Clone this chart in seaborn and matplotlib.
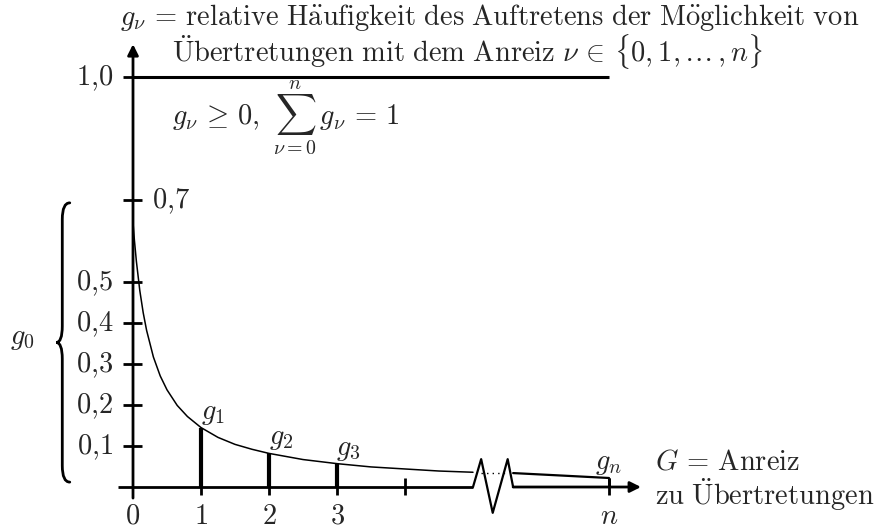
import matplotlib
matplotlib.use("Agg")
import matplotlib.pyplot as plt
import seaborn as sns
import pandas as pd
from matplotlib.path import Path
from matplotlib.patches import PathPatch

# relative frequency g over the stimulus G, left of the axis break
curve_x = [0.0, 0.02, 0.05, 0.1, 0.15, 0.2, 0.3, 0.4, 0.5, 0.65, 0.8, 1.0,
           1.25, 1.5, 1.75, 2.0, 2.5, 3.0, 3.5, 4.0, 4.5, 5.0]
curve_y = [0.645, 0.603, 0.550, 0.479, 0.425, 0.382, 0.317, 0.271, 0.237,
           0.199, 0.172, 0.145, 0.121, 0.104, 0.092, 0.082, 0.067, 0.057,
           0.049, 0.044, 0.039, 0.036]
# the same curve after the break, up to G = n
tail_x = [5.59, 6.3, 7.0]
tail_y = [0.034, 0.028, 0.022]

# marked frequencies g_1, g_2, g_3, g_n
bar_x = [1, 2, 3, 7]
bar_y = [0.145, 0.082, 0.057, 0.022]
bar_labels = [r"$g_1$", r"$g_2$", r"$g_3$", r"$g_n$"]

x_ticks = [1, 2, 3, 4, 7]
x_label_pos = [0, 1, 2, 3, 7]
x_tick_labels = [r"$0$", r"$1$", r"$2$", r"$3$", r"$n$"]
y_ticks = [0.1, 0.2, 0.3, 0.4, 0.5, 0.7, 1.0]
y_tick_labels = [r"$0{,}1$", r"$0{,}2$", r"$0{,}3$", r"$0{,}4$", r"$0{,}5$",
                 r"$0{,}7$", r"$1{,}0$"]

n_pos = 7.0
break_lo, break_hi = 5.0, 5.59

sns.set_theme(style="white")
plt.rcParams["mathtext.fontset"] = "cm"
plt.rcParams["font.family"] = ["DejaVu Serif"]

fig = plt.figure(figsize=(8.78, 5.29), dpi=100)
ax = fig.add_axes([0, 0, 1, 1])
ax.set_xlim(-1.956, 10.956)
ax.set_ylim(-0.1024, 1.1878)
ax.axis("off")

FS = 20.5
K = "black"

# curve
df_a = pd.DataFrame({"G": curve_x, "g": curve_y})
df_b = pd.DataFrame({"G": tail_x, "g": tail_y})
sns.lineplot(data=df_a, x="G", y="g", color=K, lw=1.1, ax=ax, sort=False)
sns.lineplot(data=df_b, x="G", y="g", color=K, lw=1.6, ax=ax, sort=False)
ax.plot([5.12, 5.5], [0.034, 0.034], color=K, lw=1, ls=(0, (1, 3)))

# bars for the marked frequencies
ax.vlines(bar_x[:3], 0, bar_y[:3], color=K, lw=3)
ax.vlines(bar_x[3:], 0, bar_y[3:], color=K, lw=2)
label_dx = [0.18, 0.18, 0.17, 0.0]
for bx, by, lab, dx in zip(bar_x, bar_y, bar_labels, label_dx):
    ax.text(bx + dx, by + 0.022, lab, fontsize=FS, ha="center", va="baseline")

# y axis with arrow
ax.annotate("", xy=(0, 1.08), xytext=(0, -0.027),
            arrowprops=dict(arrowstyle="-|>", lw=2, color=K,
                            mutation_scale=16, shrinkA=0, shrinkB=0))
# x axis with break and arrow
ax.plot([-0.22, break_lo], [0, 0], color=K, lw=2, solid_capstyle="butt")
zig_x = [break_lo, 5.12, 5.29, 5.51, break_hi]
zig_y = [0, 0.068, -0.063, 0.068, 0]
ax.plot(zig_x, zig_y, color=K, lw=1.6)
ax.annotate("", xy=(7.47, 0), xytext=(break_hi, 0),
            arrowprops=dict(arrowstyle="-|>", lw=2, color=K,
                            mutation_scale=16, shrinkA=0, shrinkB=0))

# ticks
ax.hlines(y_ticks, -0.147, 0.13, color=K, lw=2)
ax.hlines(1.0, 0, n_pos, color=K, lw=2.2)
ax.vlines(x_ticks, -0.02, 0.022, color=K, lw=2)

for yv, lab in zip(y_ticks, y_tick_labels):
    if yv == 0.7:
        ax.text(0.28, yv - 0.019, lab, fontsize=FS, ha="left", va="baseline")
    else:
        ax.text(-0.29, yv - 0.019, lab, fontsize=FS, ha="right", va="baseline")
for xv, lab in zip(x_label_pos, x_tick_labels):
    ax.text(xv, -0.09, lab, fontsize=FS, ha="center", va="baseline")

# curly brace grouping g_0
def brace(x_end, x_shaft, x_tip, y_top, y_bot, r):
    y_mid = 0.5 * (y_top + y_bot)
    verts = [(x_end, y_top), (x_shaft, y_top), (x_shaft, y_top - r),
             (x_shaft, y_mid + r), (x_shaft, y_mid), (x_tip, y_mid),
             (x_shaft, y_mid), (x_shaft, y_mid - r),
             (x_shaft, y_bot + r), (x_shaft, y_bot), (x_end, y_bot)]
    codes = [Path.MOVETO, Path.CURVE3, Path.CURVE3,
             Path.LINETO, Path.CURVE3, Path.CURVE3,
             Path.CURVE3, Path.CURVE3,
             Path.LINETO, Path.CURVE3, Path.CURVE3]
    return Path(verts, codes)

ax.add_patch(PathPatch(brace(-0.93, -1.04, -1.13, 0.693, 0.012, 0.04),
                       fill=False, lw=2, color=K, capstyle="round"))
ax.text(-1.63, 0.35, r"$g_0$", fontsize=FS, ha="center", va="baseline")

# descriptive text
ax.text(-0.19, 1.127,
        r"$g_\nu \,=\, \mathrm{relative\ H\ddot{a}ufigkeit\ des\ Auftretens\ der\ M\ddot{o}glichkeit\ von}$",
        fontsize=FS, ha="left", va="baseline")
ax.text(0.574, 1.036,
        r"$\mathrm{\ddot{U}bertretungen\ mit\ dem\ Anreiz}\ \nu \,\in\, \{0, 1, \ldots\, , n\}$",
        fontsize=FS, ha="left", va="baseline")
ax.text(0.574, 0.885, r"$g_\nu \,\geq\, 0,\ \sum_{\nu=0}^{n}\, g_\nu \,=\, 1$",
        fontsize=FS, ha="left", va="baseline")
ax.text(7.68, -0.044,
        "$G \\,=\\, \\mathrm{Anreiz}$\n$\\mathrm{zu\\ \\ddot{U}bertretungen}$",
        fontsize=FS, ha="left", va="baseline", linespacing=1.05)

fig.savefig("out.png", dpi=100, facecolor="white")
